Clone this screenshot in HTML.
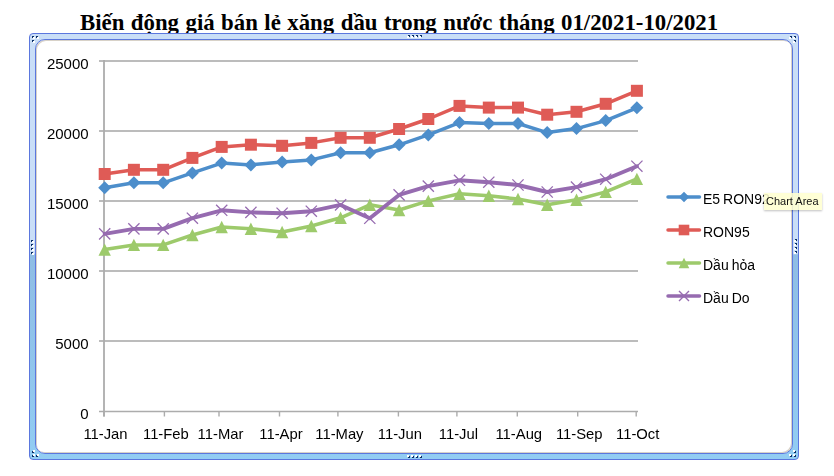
<!DOCTYPE html>
<html><head><meta charset="utf-8"><style>
html,body{margin:0;padding:0;background:#fff;}
body{width:834px;height:476px;overflow:hidden;position:relative;}
.title{position:absolute;left:80px;top:8px;font-family:"Liberation Serif",serif;font-weight:bold;font-size:22.8px;word-spacing:0.8px;line-height:30px;white-space:nowrap;color:#000;}
.outer{position:absolute;left:29px;top:33px;width:768px;height:425px;border:1px solid #5b77de;border-radius:4px;
 background:linear-gradient(to bottom,#c9def7 0%,#c9def7 51.6%,#8fbde4 52%,#92cdf3 100%);}
.inner{position:absolute;left:35px;top:39px;width:756px;height:413px;border:1px solid #5b77de;border-radius:10px;background:#fff;
 box-shadow:inset 1px 1px 0 #d8d2c8, inset -1px -1px 0 #d8d2c8;}
svg{position:absolute;left:0;top:0;will-change:transform;}
.ax{font-family:"Liberation Sans",sans-serif;font-size:14.8px;fill:#000;}
.ay{font-family:"Liberation Sans",sans-serif;font-size:15px;fill:#000;}
.lg{font-family:"Liberation Sans",sans-serif;font-size:14px;word-spacing:-0.9px;fill:#000;}
.tip{position:absolute;left:764px;top:193px;width:58px;height:17px;background:rgba(255,255,208,0.88);box-shadow:0 1px 2px rgba(0,0,0,0.25);
 font-family:"Liberation Sans",sans-serif;font-size:11px;line-height:16px;color:#111;padding-left:2px;box-sizing:border-box;white-space:nowrap;overflow:hidden;}
</style></head><body>
<div class="title">Biến động giá bán lẻ xăng dầu trong nước tháng 01/2021-10/2021</div>
<div class="outer"></div>
<div class="inner"></div>
<svg width="834" height="476" style="position:absolute;left:0;top:0" shape-rendering="crispEdges"><rect x="33" y="37" width="2" height="2" fill="#fff"/><rect x="32" y="36" width="1" height="1" fill="#0b2f66"/><rect x="32" y="37" width="1" height="1" fill="#0b2f66"/><rect x="33" y="36" width="1" height="1" fill="#0b2f66"/><rect x="37" y="37" width="2" height="2" fill="#fff"/><rect x="36" y="36" width="1" height="1" fill="#0b2f66"/><rect x="36" y="37" width="1" height="1" fill="#0b2f66"/><rect x="37" y="36" width="1" height="1" fill="#0b2f66"/><rect x="33" y="41" width="2" height="2" fill="#fff"/><rect x="32" y="40" width="1" height="1" fill="#0b2f66"/><rect x="32" y="41" width="1" height="1" fill="#0b2f66"/><rect x="33" y="40" width="1" height="1" fill="#0b2f66"/><rect x="789" y="37" width="2" height="2" fill="#fff"/><rect x="790" y="36" width="1" height="1" fill="#0b2f66"/><rect x="791" y="36" width="1" height="1" fill="#0b2f66"/><rect x="791" y="37" width="1" height="1" fill="#0b2f66"/><rect x="793" y="37" width="2" height="2" fill="#fff"/><rect x="794" y="36" width="1" height="1" fill="#0b2f66"/><rect x="795" y="36" width="1" height="1" fill="#0b2f66"/><rect x="795" y="37" width="1" height="1" fill="#0b2f66"/><rect x="793" y="41" width="2" height="2" fill="#fff"/><rect x="794" y="40" width="1" height="1" fill="#0b2f66"/><rect x="795" y="40" width="1" height="1" fill="#0b2f66"/><rect x="795" y="41" width="1" height="1" fill="#0b2f66"/><rect x="793" y="450" width="2" height="2" fill="#fff"/><rect x="794" y="452" width="1" height="1" fill="#0b2f66"/><rect x="795" y="451" width="1" height="1" fill="#0b2f66"/><rect x="795" y="452" width="1" height="1" fill="#0b2f66"/><rect x="789" y="454" width="2" height="2" fill="#fff"/><rect x="790" y="456" width="1" height="1" fill="#0b2f66"/><rect x="791" y="455" width="1" height="1" fill="#0b2f66"/><rect x="791" y="456" width="1" height="1" fill="#0b2f66"/><rect x="793" y="454" width="2" height="2" fill="#fff"/><rect x="794" y="456" width="1" height="1" fill="#0b2f66"/><rect x="795" y="455" width="1" height="1" fill="#0b2f66"/><rect x="795" y="456" width="1" height="1" fill="#0b2f66"/><rect x="33" y="450" width="2" height="2" fill="#fff"/><rect x="32" y="451" width="1" height="1" fill="#0b2f66"/><rect x="32" y="452" width="1" height="1" fill="#0b2f66"/><rect x="33" y="452" width="1" height="1" fill="#0b2f66"/><rect x="33" y="454" width="2" height="2" fill="#fff"/><rect x="32" y="455" width="1" height="1" fill="#0b2f66"/><rect x="32" y="456" width="1" height="1" fill="#0b2f66"/><rect x="33" y="456" width="1" height="1" fill="#0b2f66"/><rect x="37" y="454" width="2" height="2" fill="#fff"/><rect x="36" y="455" width="1" height="1" fill="#0b2f66"/><rect x="36" y="456" width="1" height="1" fill="#0b2f66"/><rect x="37" y="456" width="1" height="1" fill="#0b2f66"/><rect x="407" y="36" width="2" height="2" fill="#fff"/><rect x="408" y="35" width="1" height="1" fill="#0b2f66"/><rect x="409" y="35" width="1" height="1" fill="#0b2f66"/><rect x="409" y="36" width="1" height="1" fill="#0b2f66"/><rect x="411" y="36" width="2" height="2" fill="#fff"/><rect x="412" y="35" width="1" height="1" fill="#0b2f66"/><rect x="413" y="35" width="1" height="1" fill="#0b2f66"/><rect x="413" y="36" width="1" height="1" fill="#0b2f66"/><rect x="415" y="36" width="2" height="2" fill="#fff"/><rect x="416" y="35" width="1" height="1" fill="#0b2f66"/><rect x="417" y="35" width="1" height="1" fill="#0b2f66"/><rect x="417" y="36" width="1" height="1" fill="#0b2f66"/><rect x="419" y="36" width="2" height="2" fill="#fff"/><rect x="420" y="35" width="1" height="1" fill="#0b2f66"/><rect x="421" y="35" width="1" height="1" fill="#0b2f66"/><rect x="421" y="36" width="1" height="1" fill="#0b2f66"/><rect x="407" y="455" width="2" height="2" fill="#fff"/><rect x="408" y="457" width="1" height="1" fill="#0b2f66"/><rect x="409" y="456" width="1" height="1" fill="#0b2f66"/><rect x="409" y="457" width="1" height="1" fill="#0b2f66"/><rect x="411" y="455" width="2" height="2" fill="#fff"/><rect x="412" y="457" width="1" height="1" fill="#0b2f66"/><rect x="413" y="456" width="1" height="1" fill="#0b2f66"/><rect x="413" y="457" width="1" height="1" fill="#0b2f66"/><rect x="415" y="455" width="2" height="2" fill="#fff"/><rect x="416" y="457" width="1" height="1" fill="#0b2f66"/><rect x="417" y="456" width="1" height="1" fill="#0b2f66"/><rect x="417" y="457" width="1" height="1" fill="#0b2f66"/><rect x="419" y="455" width="2" height="2" fill="#fff"/><rect x="420" y="457" width="1" height="1" fill="#0b2f66"/><rect x="421" y="456" width="1" height="1" fill="#0b2f66"/><rect x="421" y="457" width="1" height="1" fill="#0b2f66"/><rect x="32" y="241" width="2" height="2" fill="#fff"/><rect x="31" y="240" width="1" height="1" fill="#0b2f66"/><rect x="31" y="241" width="1" height="1" fill="#0b2f66"/><rect x="32" y="240" width="1" height="1" fill="#0b2f66"/><rect x="32" y="245" width="2" height="2" fill="#fff"/><rect x="31" y="244" width="1" height="1" fill="#0b2f66"/><rect x="31" y="245" width="1" height="1" fill="#0b2f66"/><rect x="32" y="244" width="1" height="1" fill="#0b2f66"/><rect x="32" y="249" width="2" height="2" fill="#fff"/><rect x="31" y="248" width="1" height="1" fill="#0b2f66"/><rect x="31" y="249" width="1" height="1" fill="#0b2f66"/><rect x="32" y="248" width="1" height="1" fill="#0b2f66"/><rect x="32" y="253" width="2" height="2" fill="#fff"/><rect x="31" y="252" width="1" height="1" fill="#0b2f66"/><rect x="31" y="253" width="1" height="1" fill="#0b2f66"/><rect x="32" y="252" width="1" height="1" fill="#0b2f66"/><rect x="794" y="240" width="2" height="2" fill="#fff"/><rect x="795" y="239" width="1" height="1" fill="#0b2f66"/><rect x="796" y="239" width="1" height="1" fill="#0b2f66"/><rect x="796" y="240" width="1" height="1" fill="#0b2f66"/><rect x="794" y="244" width="2" height="2" fill="#fff"/><rect x="795" y="243" width="1" height="1" fill="#0b2f66"/><rect x="796" y="243" width="1" height="1" fill="#0b2f66"/><rect x="796" y="244" width="1" height="1" fill="#0b2f66"/><rect x="794" y="248" width="2" height="2" fill="#fff"/><rect x="795" y="247" width="1" height="1" fill="#0b2f66"/><rect x="796" y="247" width="1" height="1" fill="#0b2f66"/><rect x="796" y="248" width="1" height="1" fill="#0b2f66"/><rect x="794" y="252" width="2" height="2" fill="#fff"/><rect x="795" y="251" width="1" height="1" fill="#0b2f66"/><rect x="796" y="251" width="1" height="1" fill="#0b2f66"/><rect x="796" y="252" width="1" height="1" fill="#0b2f66"/></svg>
<svg width="834" height="476" viewBox="0 0 834 476">
<line x1="99" y1="61" x2="638" y2="61" stroke="#bcbcbc" stroke-width="2"/>
<line x1="99" y1="131" x2="638" y2="131" stroke="#bcbcbc" stroke-width="2"/>
<line x1="99" y1="201" x2="638" y2="201" stroke="#bcbcbc" stroke-width="2"/>
<line x1="99" y1="271" x2="638" y2="271" stroke="#bcbcbc" stroke-width="2"/>
<line x1="99" y1="341" x2="638" y2="341" stroke="#bcbcbc" stroke-width="2"/>
<line x1="104" y1="60" x2="104" y2="416.5" stroke="#acacac" stroke-width="1.8"/>
<line x1="99" y1="411.4" x2="638" y2="411.4" stroke="#acacac" stroke-width="1.5"/>
<line x1="104.0" y1="411" x2="104.0" y2="416.5" stroke="#acacac" stroke-width="1.4"/>
<line x1="164.4" y1="411" x2="164.4" y2="416.5" stroke="#acacac" stroke-width="1.4"/>
<line x1="219.0" y1="411" x2="219.0" y2="416.5" stroke="#acacac" stroke-width="1.4"/>
<line x1="279.5" y1="411" x2="279.5" y2="416.5" stroke="#acacac" stroke-width="1.4"/>
<line x1="337.9" y1="411" x2="337.9" y2="416.5" stroke="#acacac" stroke-width="1.4"/>
<line x1="398.4" y1="411" x2="398.4" y2="416.5" stroke="#acacac" stroke-width="1.4"/>
<line x1="456.9" y1="411" x2="456.9" y2="416.5" stroke="#acacac" stroke-width="1.4"/>
<line x1="517.3" y1="411" x2="517.3" y2="416.5" stroke="#acacac" stroke-width="1.4"/>
<line x1="577.7" y1="411" x2="577.7" y2="416.5" stroke="#acacac" stroke-width="1.4"/>
<line x1="636.2" y1="411" x2="636.2" y2="416.5" stroke="#acacac" stroke-width="1.4"/>
<polyline points="104.7,187.8 133.9,182.8 163.2,182.8 192.4,172.9 221.7,163.1 250.9,164.9 282.1,161.9 311.3,159.9 340.6,152.8 369.8,152.8 399.1,144.8 428.3,134.9 459.5,122.6 488.8,123.5 518.0,123.5 547.2,132.6 576.5,128.6 605.7,120.6 636.9,107.8" fill="none" stroke="#4d8ecb" stroke-width="3.5" stroke-linejoin="round" stroke-linecap="round"/>
<polyline points="104.7,174.0 133.9,169.8 163.2,169.8 192.4,157.9 221.7,146.9 250.9,144.7 282.1,145.8 311.3,142.9 340.6,137.8 369.8,137.8 399.1,129.0 428.3,119.0 459.5,105.9 488.8,107.6 518.0,107.6 547.2,114.7 576.5,111.8 605.7,103.8 636.9,90.8" fill="none" stroke="#df5b56" stroke-width="3.5" stroke-linejoin="round" stroke-linecap="round"/>
<polyline points="104.7,249.6 133.9,244.9 163.2,244.9 192.4,235.0 221.7,227.0 250.9,228.8 282.1,232.0 311.3,226.0 340.6,217.8 369.8,204.8 399.1,210.0 428.3,200.9 459.5,193.8 488.8,195.8 518.0,199.0 547.2,204.8 576.5,199.8 605.7,191.9 636.9,178.9" fill="none" stroke="#9dca6b" stroke-width="3.5" stroke-linejoin="round" stroke-linecap="round"/>
<polyline points="104.7,233.9 133.9,228.9 163.2,228.9 192.4,218.2 221.7,210.3 250.9,212.4 282.1,213.2 311.3,211.2 340.6,204.9 369.8,218.3 399.1,194.9 428.3,186.1 459.5,180.3 488.8,182.2 518.0,185.0 547.2,192.0 576.5,187.1 605.7,179.2 636.9,166.2" fill="none" stroke="#966bb0" stroke-width="3.9" stroke-linejoin="round" stroke-linecap="round"/>
<path d="M104.7 181.3L111.2 187.8L104.7 194.3L98.2 187.8Z" fill="#4d8ecb"/>
<path d="M133.9 176.3L140.4 182.8L133.9 189.3L127.4 182.8Z" fill="#4d8ecb"/>
<path d="M163.2 176.3L169.7 182.8L163.2 189.3L156.7 182.8Z" fill="#4d8ecb"/>
<path d="M192.4 166.4L198.9 172.9L192.4 179.4L185.9 172.9Z" fill="#4d8ecb"/>
<path d="M221.7 156.6L228.2 163.1L221.7 169.6L215.2 163.1Z" fill="#4d8ecb"/>
<path d="M250.9 158.4L257.4 164.9L250.9 171.4L244.4 164.9Z" fill="#4d8ecb"/>
<path d="M282.1 155.4L288.6 161.9L282.1 168.4L275.6 161.9Z" fill="#4d8ecb"/>
<path d="M311.3 153.4L317.8 159.9L311.3 166.4L304.8 159.9Z" fill="#4d8ecb"/>
<path d="M340.6 146.3L347.1 152.8L340.6 159.3L334.1 152.8Z" fill="#4d8ecb"/>
<path d="M369.8 146.3L376.3 152.8L369.8 159.3L363.3 152.8Z" fill="#4d8ecb"/>
<path d="M399.1 138.3L405.6 144.8L399.1 151.3L392.6 144.8Z" fill="#4d8ecb"/>
<path d="M428.3 128.4L434.8 134.9L428.3 141.4L421.8 134.9Z" fill="#4d8ecb"/>
<path d="M459.5 116.1L466.0 122.6L459.5 129.1L453.0 122.6Z" fill="#4d8ecb"/>
<path d="M488.8 117.0L495.3 123.5L488.8 130.0L482.3 123.5Z" fill="#4d8ecb"/>
<path d="M518.0 117.0L524.5 123.5L518.0 130.0L511.5 123.5Z" fill="#4d8ecb"/>
<path d="M547.2 126.1L553.7 132.6L547.2 139.1L540.7 132.6Z" fill="#4d8ecb"/>
<path d="M576.5 122.1L583.0 128.6L576.5 135.1L570.0 128.6Z" fill="#4d8ecb"/>
<path d="M605.7 114.1L612.2 120.6L605.7 127.1L599.2 120.6Z" fill="#4d8ecb"/>
<path d="M636.9 101.3L643.4 107.8L636.9 114.3L630.4 107.8Z" fill="#4d8ecb"/>
<rect x="98.7" y="168.0" width="12" height="12" fill="#df5b56"/>
<rect x="127.9" y="163.8" width="12" height="12" fill="#df5b56"/>
<rect x="157.2" y="163.8" width="12" height="12" fill="#df5b56"/>
<rect x="186.4" y="151.9" width="12" height="12" fill="#df5b56"/>
<rect x="215.7" y="140.9" width="12" height="12" fill="#df5b56"/>
<rect x="244.9" y="138.7" width="12" height="12" fill="#df5b56"/>
<rect x="276.1" y="139.8" width="12" height="12" fill="#df5b56"/>
<rect x="305.3" y="136.9" width="12" height="12" fill="#df5b56"/>
<rect x="334.6" y="131.8" width="12" height="12" fill="#df5b56"/>
<rect x="363.8" y="131.8" width="12" height="12" fill="#df5b56"/>
<rect x="393.1" y="123.0" width="12" height="12" fill="#df5b56"/>
<rect x="422.3" y="113.0" width="12" height="12" fill="#df5b56"/>
<rect x="453.5" y="99.9" width="12" height="12" fill="#df5b56"/>
<rect x="482.8" y="101.6" width="12" height="12" fill="#df5b56"/>
<rect x="512.0" y="101.6" width="12" height="12" fill="#df5b56"/>
<rect x="541.2" y="108.7" width="12" height="12" fill="#df5b56"/>
<rect x="570.5" y="105.8" width="12" height="12" fill="#df5b56"/>
<rect x="599.7" y="97.8" width="12" height="12" fill="#df5b56"/>
<rect x="630.9" y="84.8" width="12" height="12" fill="#df5b56"/>
<path d="M104.7 243.4L110.9 255.8L98.5 255.8Z" fill="#9dca6b"/>
<path d="M133.9 238.7L140.1 251.1L127.7 251.1Z" fill="#9dca6b"/>
<path d="M163.2 238.7L169.4 251.1L157.0 251.1Z" fill="#9dca6b"/>
<path d="M192.4 228.8L198.6 241.2L186.2 241.2Z" fill="#9dca6b"/>
<path d="M221.7 220.8L227.9 233.2L215.5 233.2Z" fill="#9dca6b"/>
<path d="M250.9 222.6L257.1 235.0L244.7 235.0Z" fill="#9dca6b"/>
<path d="M282.1 225.8L288.3 238.2L275.9 238.2Z" fill="#9dca6b"/>
<path d="M311.3 219.8L317.5 232.2L305.1 232.2Z" fill="#9dca6b"/>
<path d="M340.6 211.6L346.8 224.0L334.4 224.0Z" fill="#9dca6b"/>
<path d="M369.8 198.6L376.0 211.0L363.6 211.0Z" fill="#9dca6b"/>
<path d="M399.1 203.8L405.3 216.2L392.9 216.2Z" fill="#9dca6b"/>
<path d="M428.3 194.7L434.5 207.1L422.1 207.1Z" fill="#9dca6b"/>
<path d="M459.5 187.6L465.7 200.0L453.3 200.0Z" fill="#9dca6b"/>
<path d="M488.8 189.6L495.0 202.0L482.6 202.0Z" fill="#9dca6b"/>
<path d="M518.0 192.8L524.2 205.2L511.8 205.2Z" fill="#9dca6b"/>
<path d="M547.2 198.6L553.4 211.0L541.0 211.0Z" fill="#9dca6b"/>
<path d="M576.5 193.6L582.7 206.0L570.3 206.0Z" fill="#9dca6b"/>
<path d="M605.7 185.7L611.9 198.1L599.5 198.1Z" fill="#9dca6b"/>
<path d="M636.9 172.7L643.1 185.1L630.7 185.1Z" fill="#9dca6b"/>
<path d="M99.1 228.3L110.3 239.5M110.3 228.3L99.1 239.5" stroke="#966bb0" stroke-width="1.3" fill="none"/>
<path d="M128.3 223.3L139.5 234.5M139.5 223.3L128.3 234.5" stroke="#966bb0" stroke-width="1.3" fill="none"/>
<path d="M157.6 223.3L168.8 234.5M168.8 223.3L157.6 234.5" stroke="#966bb0" stroke-width="1.3" fill="none"/>
<path d="M186.8 212.6L198.0 223.8M198.0 212.6L186.8 223.8" stroke="#966bb0" stroke-width="1.3" fill="none"/>
<path d="M216.1 204.7L227.3 215.9M227.3 204.7L216.1 215.9" stroke="#966bb0" stroke-width="1.3" fill="none"/>
<path d="M245.3 206.8L256.5 218.0M256.5 206.8L245.3 218.0" stroke="#966bb0" stroke-width="1.3" fill="none"/>
<path d="M276.5 207.6L287.7 218.8M287.7 207.6L276.5 218.8" stroke="#966bb0" stroke-width="1.3" fill="none"/>
<path d="M305.7 205.6L316.9 216.8M316.9 205.6L305.7 216.8" stroke="#966bb0" stroke-width="1.3" fill="none"/>
<path d="M335.0 199.3L346.2 210.5M346.2 199.3L335.0 210.5" stroke="#966bb0" stroke-width="1.3" fill="none"/>
<path d="M364.2 212.7L375.4 223.9M375.4 212.7L364.2 223.9" stroke="#966bb0" stroke-width="1.3" fill="none"/>
<path d="M393.5 189.3L404.7 200.5M404.7 189.3L393.5 200.5" stroke="#966bb0" stroke-width="1.3" fill="none"/>
<path d="M422.7 180.5L433.9 191.7M433.9 180.5L422.7 191.7" stroke="#966bb0" stroke-width="1.3" fill="none"/>
<path d="M453.9 174.7L465.1 185.9M465.1 174.7L453.9 185.9" stroke="#966bb0" stroke-width="1.3" fill="none"/>
<path d="M483.2 176.6L494.4 187.8M494.4 176.6L483.2 187.8" stroke="#966bb0" stroke-width="1.3" fill="none"/>
<path d="M512.4 179.4L523.6 190.6M523.6 179.4L512.4 190.6" stroke="#966bb0" stroke-width="1.3" fill="none"/>
<path d="M541.6 186.4L552.8 197.6M552.8 186.4L541.6 197.6" stroke="#966bb0" stroke-width="1.3" fill="none"/>
<path d="M570.9 181.5L582.1 192.7M582.1 181.5L570.9 192.7" stroke="#966bb0" stroke-width="1.3" fill="none"/>
<path d="M600.1 173.6L611.3 184.8M611.3 173.6L600.1 184.8" stroke="#966bb0" stroke-width="1.3" fill="none"/>
<path d="M631.3 160.6L642.5 171.8M642.5 160.6L631.3 171.8" stroke="#966bb0" stroke-width="1.3" fill="none"/>
<text x="88.6" y="68.6" text-anchor="end" class="ay">25000</text>
<text x="88.6" y="138.6" text-anchor="end" class="ay">20000</text>
<text x="88.6" y="208.6" text-anchor="end" class="ay">15000</text>
<text x="88.6" y="278.6" text-anchor="end" class="ay">10000</text>
<text x="88.6" y="348.6" text-anchor="end" class="ay">5000</text>
<text x="88.6" y="418.6" text-anchor="end" class="ay">0</text>
<text x="105.5" y="438.5" text-anchor="middle" class="ax">11-Jan</text>
<text x="165.9" y="438.5" text-anchor="middle" class="ax">11-Feb</text>
<text x="220.5" y="438.5" text-anchor="middle" class="ax">11-Mar</text>
<text x="281.0" y="438.5" text-anchor="middle" class="ax">11-Apr</text>
<text x="339.4" y="438.5" text-anchor="middle" class="ax">11-May</text>
<text x="399.9" y="438.5" text-anchor="middle" class="ax">11-Jun</text>
<text x="458.4" y="438.5" text-anchor="middle" class="ax">11-Jul</text>
<text x="518.8" y="438.5" text-anchor="middle" class="ax">11-Aug</text>
<text x="579.2" y="438.5" text-anchor="middle" class="ax">11-Sep</text>
<text x="637.7" y="438.5" text-anchor="middle" class="ax">11-Oct</text>
<line x1="668" y1="197" x2="699.5" y2="197" stroke="#4d8ecb" stroke-width="3.5" stroke-linecap="round"/>
<path d="M684.0 191.7L689.3 197.0L684.0 202.3L678.7 197.0Z" fill="#4d8ecb"/>
<text x="703" y="203.5" class="lg">E5 RON92</text>
<line x1="668" y1="230" x2="699.5" y2="230" stroke="#df5b56" stroke-width="3.5" stroke-linecap="round"/>
<rect x="678.7" y="224.7" width="10.6" height="10.6" fill="#df5b56"/>
<text x="703" y="236.5" class="lg">RON95</text>
<line x1="668" y1="263" x2="699.5" y2="263" stroke="#9dca6b" stroke-width="3.5" stroke-linecap="round"/>
<path d="M684.0 257.7L689.3 268.3L678.7 268.3Z" fill="#9dca6b"/>
<text x="703" y="269.5" class="lg">Dầu hỏa</text>
<line x1="668" y1="296" x2="699.5" y2="296" stroke="#966bb0" stroke-width="3.5" stroke-linecap="round"/>
<path d="M679.0 291.0L689.0 301.0M689.0 291.0L679.0 301.0" stroke="#966bb0" stroke-width="1.4" fill="none"/>
<text x="703" y="302.5" class="lg">Dầu Do</text>
</svg>
<div class="tip">Chart Area</div>
</body></html>
